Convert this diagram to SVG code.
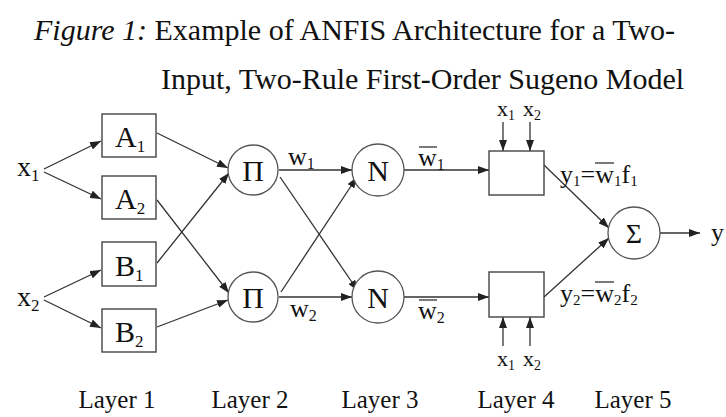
<svg xmlns="http://www.w3.org/2000/svg" width="726" height="417" viewBox="0 0 726 417">
<defs>
<marker id="ah" markerUnits="userSpaceOnUse" markerWidth="11" markerHeight="8" refX="11" refY="4" orient="auto">
<path d="M0,0 L11,4 L0,8 z" fill="#222"/>
</marker>
<style>
.t{font-family:"Liberation Serif","Times New Roman",serif;fill:#111}
.title{font-size:30px}
.big{font-size:30px}
.lay{font-size:25px;text-anchor:middle}
.box{fill:#fff;stroke:#444;stroke-width:1.4}
.c{fill:#fff;stroke:#555;stroke-width:1.3}
.e{stroke:#333;stroke-width:1.3;fill:none;marker-end:url(#ah)}
.ob{stroke:#222;stroke-width:1.2}
</style>
</defs>
<rect width="726" height="417" fill="#fff"/>
<g id="title">
<text class="t title" x="34" y="40"><tspan font-style="italic">Figure 1:</tspan> Example of ANFIS Architecture for a Two-</text>
<text class="t title" x="161" y="89">Input, Two-Rule First-Order Sugeno Model</text>
</g>
<g id="connectors">
<line class="e" x1="44" y1="169" x2="101" y2="141"/>
<line class="e" x1="44" y1="172" x2="101" y2="199"/>
<line class="e" x1="44" y1="297" x2="101" y2="270"/>
<line class="e" x1="44" y1="300" x2="101" y2="328"/>
<line class="e" x1="157" y1="133" x2="228" y2="168"/>
<line class="e" x1="157" y1="263" x2="229" y2="173"/>
<line class="e" x1="157" y1="200" x2="229" y2="293"/>
<line class="e" x1="157" y1="327" x2="228" y2="300"/>
<line class="e" x1="279" y1="170" x2="352" y2="170"/>
<line class="e" x1="280" y1="177" x2="358" y2="291"/>
<line class="e" x1="281" y1="292" x2="357" y2="177"/>
<line class="e" x1="279" y1="297" x2="352" y2="297"/>
<line class="e" x1="404" y1="170" x2="489" y2="170"/>
<line class="e" x1="404" y1="297" x2="489" y2="297"/>
<line class="e" x1="503" y1="122" x2="503" y2="151"/>
<line class="e" x1="530" y1="122" x2="530" y2="151"/>
<line class="e" x1="503" y1="346" x2="503" y2="317"/>
<line class="e" x1="530" y1="346" x2="530" y2="317"/>
<line class="e" x1="544" y1="165" x2="609" y2="228"/>
<line class="e" x1="544" y1="297" x2="609" y2="238"/>
<line class="e" x1="660" y1="233" x2="700" y2="233"/>
</g>
<g id="in-x1"><text class="t" x="17" y="176" font-size="28">x<tspan font-size="17" dy="5">1</tspan></text></g>
<g id="in-x2"><text class="t" x="17" y="306" font-size="28">x<tspan font-size="17" dy="5">2</tspan></text></g>
<g id="A1"><rect class="box" x="102" y="114" width="54" height="43"/><text class="t big" x="115" y="147">A<tspan font-size="17" dy="5">1</tspan></text></g>
<g id="A2"><rect class="box" x="102" y="176" width="54" height="43"/><text class="t big" x="115" y="209">A<tspan font-size="17" dy="5">2</tspan></text></g>
<g id="B1"><rect class="box" x="102" y="242" width="54" height="44"/><text class="t big" x="115" y="276">B<tspan font-size="17" dy="5">1</tspan></text></g>
<g id="B2"><rect class="box" x="102" y="309" width="54" height="43"/><text class="t big" x="115" y="342">B<tspan font-size="17" dy="5">2</tspan></text></g>
<g id="P1"><circle class="c" cx="253" cy="170" r="25"/><text class="t big" x="253" y="181" text-anchor="middle">Π</text></g>
<g id="P2"><circle class="c" cx="253" cy="297" r="25"/><text class="t big" x="253" y="308" text-anchor="middle">Π</text></g>
<g id="N1"><circle class="c" cx="378" cy="170" r="26"/><text class="t big" x="378" y="181" text-anchor="middle">N</text></g>
<g id="N2"><circle class="c" cx="378" cy="297" r="26"/><text class="t big" x="378" y="308" text-anchor="middle">N</text></g>
<g id="R1"><rect class="box" x="489" y="151" width="55" height="44"/></g>
<g id="R2"><rect class="box" x="489" y="272" width="55" height="45"/></g>
<g id="S"><circle class="c" cx="634" cy="233" r="26"/><text class="t" x="634" y="243" font-size="28" text-anchor="middle">Σ</text></g>
<g id="out-y"><text class="t" x="711" y="241" font-size="26">y</text></g>
<g id="labels">
<text class="t" x="288" y="165" font-size="26">w<tspan font-size="16" dy="4">1</tspan></text>
<text class="t" x="290" y="317" font-size="26">w<tspan font-size="16" dy="4">2</tspan></text>
<text class="t" x="418" y="166" font-size="26">w<tspan font-size="16" dy="4">1</tspan></text>
<line class="ob" x1="419" y1="147" x2="437" y2="147"/>
<text class="t" x="418" y="319" font-size="26">w<tspan font-size="16" dy="4">2</tspan></text>
<line class="ob" x1="419" y1="300" x2="437" y2="300"/>
<text class="t" x="497" y="116" font-size="22">x<tspan font-size="14" dy="4">1</tspan></text>
<text class="t" x="523" y="116" font-size="22">x<tspan font-size="14" dy="4">2</tspan></text>
<text class="t" x="497" y="366" font-size="22">x<tspan font-size="14" dy="4">1</tspan></text>
<text class="t" x="523" y="366" font-size="22">x<tspan font-size="14" dy="4">2</tspan></text>
<text class="t" x="560" y="183" font-size="26">y<tspan font-size="15" dy="3">1</tspan><tspan dy="-3">=w</tspan><tspan font-size="15" dy="3">1</tspan><tspan dy="-3">f</tspan><tspan font-size="15" dy="3">1</tspan></text>
<line class="ob" x1="595" y1="163" x2="614" y2="163"/>
<text class="t" x="560" y="302" font-size="26">y<tspan font-size="15" dy="3">2</tspan><tspan dy="-3">=w</tspan><tspan font-size="15" dy="3">2</tspan><tspan dy="-3">f</tspan><tspan font-size="15" dy="3">2</tspan></text>
<line class="ob" x1="595" y1="282" x2="614" y2="282"/>
</g>
<g id="layers">
<text class="t lay" x="117" y="408">Layer 1</text>
<text class="t lay" x="250" y="408">Layer 2</text>
<text class="t lay" x="380" y="408">Layer 3</text>
<text class="t lay" x="516" y="408">Layer 4</text>
<text class="t lay" x="633" y="408">Layer 5</text>
</g>
</svg>
